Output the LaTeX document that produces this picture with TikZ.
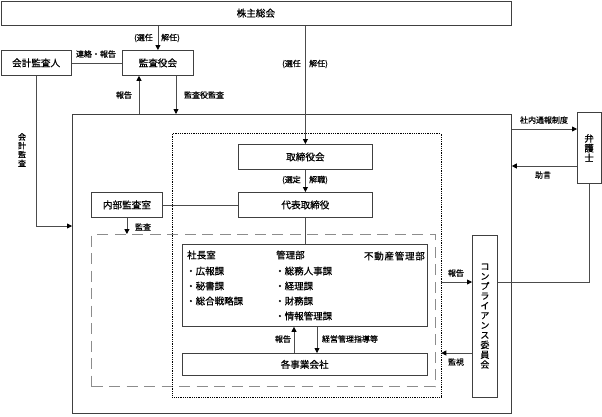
\documentclass[tikz,border=0pt]{standalone}
\usepackage{fontspec}
\setmainfont{Noto Sans CJK JP}[FakeBold=0.6]
\usetikzlibrary{arrows.meta,calc}
\begin{document}
\begin{tikzpicture}[x=1pt,y=-1pt,
  box/.style={draw=black!75, line width=0.8pt, inner sep=0pt, anchor=north west, font=\fontsize{9.6}{11}\selectfont},
  lbl/.style={inner sep=0pt, font=\fontsize{8}{9}\selectfont},
  dept/.style={inner sep=0pt, anchor=west, font=\fontsize{9.5}{11}\selectfont},
  ln/.style={draw=black!70, line width=0.8pt},
  arr/.style={ln, -{Triangle[length=5pt,width=5pt,color=black]}}
]
\useasboundingbox (0,0) rectangle (602,416);

% boxes
\node[box, minimum width=510pt, minimum height=24.5pt] (kabu) at (0.5,0.5) {株主総会};
\node[box, minimum width=71pt, minimum height=25pt] (kansa) at (122,50) {監査役会};
\node[box, minimum width=70.5pt, minimum height=25pt] (kaikei) at (0.5,50) {会計監査人};
\node[box, minimum width=439pt, minimum height=299pt] (big) at (72,114) {};
\node[box, draw=black!45, line width=1.4pt, dash pattern=on 11pt off 6.5pt, minimum width=343.5pt, minimum height=152pt] (dash) at (91,234) {};
\node[box, draw=black, dash pattern=on 0.9pt off 0.9pt, minimum width=268.5pt, minimum height=263.5pt] (dot) at (172,133) {};
\node[box, minimum width=134pt, minimum height=25pt] (tori) at (238,144) {取締役会};
\node[box, minimum width=134pt, minimum height=25pt] (daihyo) at (238,192) {代表取締役};
\node[box, minimum width=71pt, minimum height=25pt] (naibu) at (91,192) {内部監査室};
\node[box, fill=white, minimum width=245.5pt, minimum height=82.5pt] (depts) at (181.5,243.5) {};
\node[box, minimum width=245.5pt, minimum height=22pt] (jigyo) at (181.5,353) {各事業会社};
\node[box, align=center, font=\fontsize{9}{9.8}\selectfont, minimum width=25pt, minimum height=161.5pt] (comp) at (472,235) {コ\\ン\\プ\\ラ\\イ\\ア\\ン\\ス\\委\\員\\会};
\node[box, align=center, font=\fontsize{9.3}{9.8}\selectfont, minimum width=23.5pt, minimum height=71pt] (bengo) at (577,112) {弁\\護\\士};

% department texts
\node[dept] (d1) at (187,255) {社長室};
\node[dept] (d2) at (186,271) {・広報課};
\node[dept] (d3) at (186,286) {・秘書課};
\node[dept] (d4) at (186,301) {・総合戦略課};
\node[dept] (d5) at (276,255) {管理部};
\node[dept] (d6) at (275,271) {・総務人事課};
\node[dept] (d7) at (275,286) {・経理課};
\node[dept] (d8) at (275,301) {・財務課};
\node[dept] (d9) at (275,316) {・情報管理課};
\node[dept, anchor=east, font=\fontsize{9.5}{11}\selectfont\addfontfeatures{LetterSpace=8}] (d10) at (425,256) {不動産管理部};

% helper coordinates
\coordinate (a1) at (139,0);
\coordinate (a2) at (176,0);
\coordinate (a3) at (0,226);
\coordinate (a4) at (294,0);
\coordinate (a5) at (317,0);
\coordinate (a6) at (0,282);
\coordinate (a7) at (0,353);
\coordinate (a8) at (0,129);
\coordinate (a9) at (0,166);

% connectors
\draw[arr] (kansa.north |- kabu.south) -- (kansa.north);
\draw[arr] (tori.north |- kabu.south) -- (tori.north);
\draw[ln] (kaikei.east) -- (kansa.west);
\draw[arr] (a1 |- big.north) -- (a1 |- kansa.south);
\draw[arr] (a2 |- kansa.south) -- (a2 |- big.north);
\draw[arr] (kaikei.south) |- (a3 -| big.west);
\draw[arr] (tori.south) -- (daihyo.north);
\draw[ln] (naibu.east) -- (daihyo.west);
\draw[arr] (naibu.south) -- (naibu.south |- dash.north);
\draw[ln] (daihyo.south) -- (daihyo.south |- depts.north);
\draw[arr] (a4 |- jigyo.north) -- (a4 |- depts.south);
\draw[arr] (a5 |- depts.south) -- (a5 |- jigyo.north);
\draw[arr] (a6 -| dot.east) -- (a6 -| comp.west);
\draw[arr] (a7 -| comp.west) -- (a7 -| dot.east);
\draw[ln] (a6 -| comp.east) -| (bengo.south);
\draw[arr] (a8 -| big.east) -- (a8 -| bengo.west);
\draw[arr] (a9 -| bengo.west) -- (a9 -| big.east);

% labels
\node[lbl, anchor=east] (l1) at (153,38) {(選任};
\node[lbl, anchor=west] (l2) at (161,38) {解任)};
\node[lbl] (l3) at (96,54) {連絡・報告};
\node[lbl] (l4) at (124,95) {報告};
\node[lbl] (l5) at (204,95) {監査役監査};
\node[lbl, anchor=east] (l6) at (301,64) {(選任};
\node[lbl, anchor=west] (l7) at (309,64) {解任)};
\node[lbl, anchor=east] (l8) at (301,180) {(選定};
\node[lbl, anchor=west] (l9) at (309,180) {解職)};
\node[lbl, align=center, font=\fontsize{8}{8.8}\selectfont] (l10) at (22,150) {会\\計\\監\\査};
\node[lbl] (l11) at (143,227) {監査};
\node[lbl] (l12) at (544,120) {社内通報制度};
\node[lbl] (l13) at (543,175) {助言};
\node[lbl] (l14) at (456,273) {報告};
\node[lbl] (l15) at (456,362) {監視};
\node[lbl] (l16) at (283,339) {報告};
\node[lbl] (l17) at (350,339) {経営管理指導等};
\end{tikzpicture}
\end{document}
